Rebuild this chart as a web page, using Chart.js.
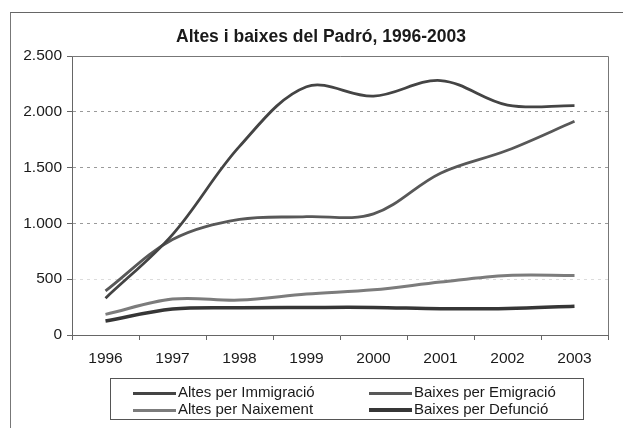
<!DOCTYPE html>
<html>
<head>
<meta charset="utf-8">
<script src="https://cdn.jsdelivr.net/npm/chart.js@4"></script>
<style>
body{margin:0;background:#fff;}
#wrap{position:relative;width:623px;height:428px;overflow:hidden;font-family:"Liberation Sans",Arial,sans-serif;}
#frame{position:absolute;left:10px;top:12px;width:700px;height:500px;border-left:1px solid #777;border-top:1px solid #666;}
#myChart{position:absolute;left:0;top:0;}
#legend{position:absolute;left:110px;top:378px;width:472px;height:40px;border:1px solid #555;}
.item{position:absolute;font-size:15px;color:#1a1a1a;line-height:17px;white-space:nowrap;}
.item span{display:inline-block;width:43px;vertical-align:middle;margin-right:2px;}
</style>
</head>
<body>
<div id="wrap">
  <div id="frame"></div>
  <canvas id="myChart" width="623" height="428"></canvas>
  <div id="legend"></div>
</div>
<script>
const years = ['1996', '1997', '1998', '1999', '2000', '2001', '2002', '2003'];
const immigracio = [330, 900, 1690, 2225, 2140, 2280, 2060, 2055];
const emigracio = [395, 855, 1035, 1060, 1085, 1450, 1655, 1915];
const naixement = [185, 322, 313, 367, 405, 475, 534, 534];
const defuncio = [125, 232, 245, 247, 247, 236, 238, 258];
const yTicks = [0, 500, 1000, 1500, 2000, 2500];

const fmt = v => String(v).replace(/\B(?=(\d{3})+(?!\d))/g, '.');

// title + top/right frame of the plot
const extras = {
    id: 'extras',
    beforeDatasetsDraw(chart) {
        const a = chart.chartArea, c = chart.ctx;
        c.save();
        c.strokeStyle = '#777';
        c.lineWidth = 1;
        c.beginPath();
        c.moveTo(a.left, a.top + 0.5);
        c.lineTo(a.right + 0.5, a.top + 0.5);
        c.lineTo(a.right + 0.5, a.bottom);
        c.stroke();
        c.restore();
    },
    afterDraw(chart) {
        const c = chart.ctx;
        c.save();
        c.fillStyle = '#1a1a1a';
        c.font = 'bold 17.5px "Liberation Sans", Arial, sans-serif';
        c.textAlign = 'center';
        c.textBaseline = 'middle';
        c.fillText('Altes i baixes del Padró, 1996-2003', 321, 37);
        c.restore();
    }
};

const ctx = document.getElementById('myChart').getContext('2d');
const myChart = new Chart(ctx, {
    type: 'line',
    data: {
        labels: years,
        datasets: [{
            label: 'Altes per Immigració',
            data: immigracio,
            borderColor: '#444444',
            borderWidth: 2.8
        }, {
            label: 'Baixes per Emigració',
            data: emigracio,
            borderColor: '#585858',
            borderWidth: 2.8
        }, {
            label: 'Altes per Naixement',
            data: naixement,
            borderColor: '#7c7c7c',
            borderWidth: 3
        }, {
            label: 'Baixes per Defunció',
            data: defuncio,
            borderColor: '#363636',
            borderWidth: 3.5
        }]
    },
    options: {
        responsive: false,
        animation: false,
        layout: {padding: {top: 56, right: 15, bottom: 53, left: 10}},
        elements: {
            point: {radius: 0, hoverRadius: 0},
            line: {tension: 0.35, fill: false}
        },
        plugins: {
            legend: {display: false},
            tooltip: {enabled: false}
        },
        scales: {
            x: {
                offset: true,
                afterFit: s => { s.height = 40; },
                grid: {offset: true, drawOnChartArea: false, drawTicks: true, tickLength: 5, color: '#666'},
                border: {color: '#666'},
                ticks: {color: '#1a1a1a', padding: 9, maxRotation: 0, font: {family: '"Liberation Sans", Arial, sans-serif', size: 15.5}}
            },
            y: {
                min: 0,
                max: 2500,
                afterFit: s => { s.width = 62; },
                afterBuildTicks: s => { s.ticks = yTicks.map(v => ({value: v})); },
                grid: {
                    color: c => c.tick.value === 500 ? '#dcdcdc' : (c.tick.value === 0 || c.tick.value === 2500 ? 'rgba(0,0,0,0)' : '#9a9a9a'),
                    tickColor: '#666',
                    tickLength: 5
                },
                border: {color: '#666', dash: [3, 4]},
                ticks: {color: '#1a1a1a', padding: 5, callback: v => fmt(v), font: {family: '"Liberation Sans", Arial, sans-serif', size: 15.5}}
            }
        }
    },
    plugins: [extras]
});

// legend in two columns, like the original box
const pos = [[22, 4], [258, 4], [22, 21], [258, 21]];
const legend = document.getElementById('legend');
myChart.data.datasets.forEach((d, i) => {
    const item = document.createElement('div');
    item.className = 'item';
    item.style.left = pos[i][0] + 'px';
    item.style.top = pos[i][1] + 'px';
    const line = document.createElement('span');
    line.style.borderTop = Math.round(d.borderWidth) + 'px solid ' + d.borderColor;
    item.appendChild(line);
    item.appendChild(document.createTextNode(d.label));
    legend.appendChild(item);
});
</script>
</body>
</html>
